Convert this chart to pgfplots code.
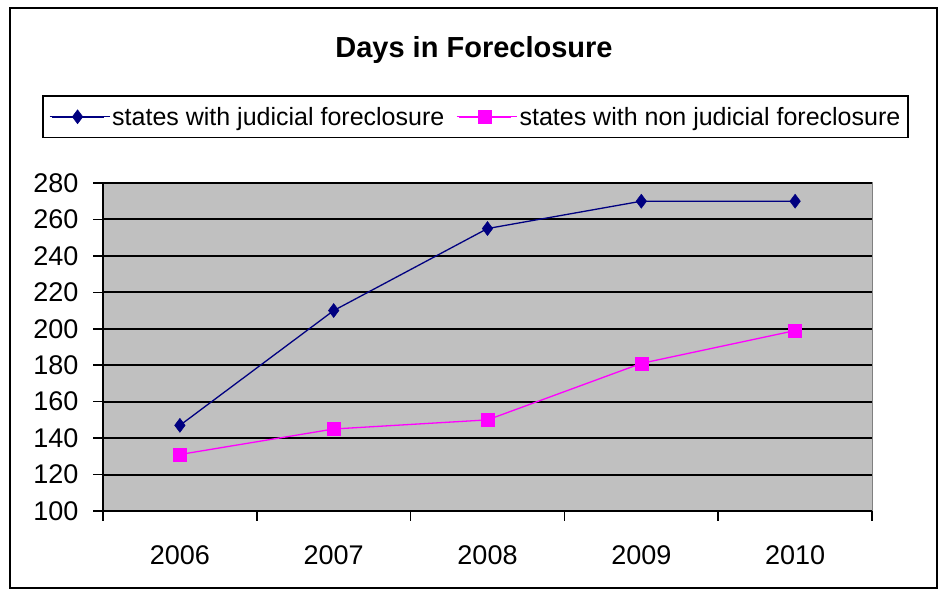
\documentclass[border=0pt]{standalone}
\usepackage{pgfplots}
\pgfplotsset{compat=1.18}
\usepackage{fontspec}
\setmainfont{Liberation Sans}
\definecolor{plotgray}{HTML}{C0C0C0}
\definecolor{navyj}{HTML}{000080}
\definecolor{magn}{HTML}{FF00FF}
\begin{document}
\begin{tikzpicture}[x=1bp,y=1bp]
\useasboundingbox (0,0) rectangle (948,597);
\draw[line width=2bp] (10,9) rectangle (937,589);
\node[font=\fontsize{29bp}{34bp}\selectfont\bfseries] at (474,547) {Days in Foreclosure};
\begin{axis}[
  scale only axis,
  width=769bp, height=328bp,
  at={(103bp,86bp)}, anchor=south west,
  xmin=-0.5, xmax=4.5,
  ymin=100, ymax=280,
  ytick={100,120,...,280},
  xtick={0,1,2,3,4},
  xticklabels={2006,2007,2008,2009,2010},
  minor xtick={-0.5,0.5,...,4.5},
  major x tick style={draw=none},
  minor x tick style={line width=1.5bp, black},
  minor tick length=10bp,
  major tick length=10bp,
  tick align=outside,
  axis x line*=bottom,
  axis y line*=left,
  axis line style={line width=2bp, black, -},
  y tick style={line width=1.5bp, black},
  ymajorgrids,
  major grid style={line width=2bp, black},
  axis background/.style={fill=plotgray, draw=gray, line width=1bp},
  /pgf/number format/assume math mode=true,
  tick label style={font=\fontsize{27bp}{32bp}\selectfont},
  yticklabel style={xshift=-11bp},
  xticklabel style={yshift=-21bp},
  legend columns=2,
  legend style={at={(-0.0793,1.268)}, anchor=north west,
    draw=black, line width=1.8bp,
    font=\fontsize{25bp}{30bp}\selectfont,
    inner xsep=6bp, inner ysep=9bp,
    cells={anchor=west},
    /tikz/every odd column/.append style={column sep=0bp},
    /tikz/every even column/.append style={column sep=10bp}},
  legend image code/.code={\path (-2bp,0bp) -- (58bp,0bp);\draw[mark repeat=2,mark phase=2,#1,line width=1.8bp] plot coordinates {(0bp,0bp) (26bp,0bp) (52bp,0bp)};},
]
\addplot[color=navyj, line width=1.3bp, mark=diamond*, mark size=7bp, mark options={fill=navyj, draw=navyj, line width=0.5bp}]
  coordinates {(0,147) (1,210) (2,255) (3,270) (4,270)};
\addlegendentry{states with judicial foreclosure}
\addplot[color=magn, line width=1.3bp, mark=square*, mark size=6.5bp, mark options={fill=magn, draw=magn, line width=0.5bp}]
  coordinates {(0,131) (1,145) (2,150) (3,181) (4,199)};
\addlegendentry{states with non judicial foreclosure}
\end{axis}
\end{tikzpicture}
\end{document}
